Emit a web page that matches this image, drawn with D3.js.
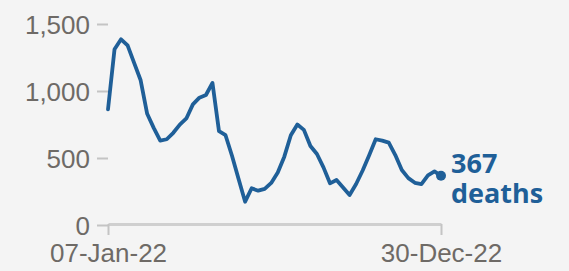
<!DOCTYPE html>
<html><head><meta charset="utf-8">
<script src="https://cdn.jsdelivr.net/npm/d3@7"></script>
<style>
html,body{margin:0;padding:0;background:#f4f4f4;}
svg{display:block;font-family:"Open Sans",sans-serif;}
</style></head>
<body><svg id="c" width="569" height="271"></svg>
<script>
const startDate = "2022-01-07";
const endDate = "2022-12-30";
const deaths = [863,1311,1386,1340,1210,1080,830,725,630,640,688,749,795,900,950,970,1060,700,670,515,344,174,274,256,270,314,392,510,670,750,710,590,530,430,311,336,280,224,306,407,520,640,630,615,522,410,350,315,305,370,400,367];
const yTicks = [0,500,1000,1500];
const xTickLabels = ["07-Jan-22","30-Dec-22"];
const endLabel = ["367","deaths"];

const parse = d3.timeParse("%Y-%m-%d");
const t0 = parse(startDate);
const dates = deaths.map((d,i)=>d3.timeDay.offset(t0, i*7));
const data = deaths.map((v,i)=>({date:dates[i], value:v}));

const svg = d3.select("#c");
const x = d3.scaleTime().domain([t0, parse(endDate)]).range([108,441]);
const y = d3.scaleLinear().domain([0,1500]).range([225,24]);

// y axis ticks
const ya = svg.append("g").attr("transform","translate(108,0)")
  .call(d3.axisLeft(y).tickValues(yTicks).tickSize(11).tickPadding(7).tickFormat(d3.format(",")));
ya.select(".domain").remove();
ya.selectAll("line").attr("stroke","#c4c4c4").attr("stroke-width",2);
ya.selectAll("text").attr("fill","#6e6a66").style("font-size","26px").attr("dy","0.35em");

// x axis
const xa = svg.append("g").attr("transform","translate(0,224)")
  .call(d3.axisBottom(x).tickValues([t0, parse(endDate)]).tickSize(11).tickSizeOuter(0).tickPadding(5).tickFormat((d,i)=>xTickLabels[i]));
xa.select(".domain").attr("stroke","#cfcfcf").attr("stroke-width",3);
xa.selectAll("line").attr("stroke","#c4c4c4").attr("stroke-width",2);
xa.selectAll("text").attr("fill","#6e6a66").style("font-size","26px").attr("dy","0.85em");

// line
const line = d3.line().x(d=>x(d.date)).y(d=>y(d.value));
svg.append("path").datum(data).attr("d",line)
  .attr("fill","none").attr("stroke","#1f5f98").attr("stroke-width",3.8)
  .attr("stroke-linejoin","round").attr("stroke-linecap","round");

const last = data[data.length-1];
svg.append("circle").attr("cx",x(last.date)).attr("cy",y(last.value)).attr("r",5).attr("fill","#1f5f98");

const lbl = svg.append("text").attr("x",x(last.date)+10).attr("y",173)
  .attr("fill","#1f5f98").style("font-size","27px").style("font-weight","bold");
lbl.append("tspan").attr("x",x(last.date)+10).text(endLabel[0]);
lbl.append("tspan").attr("x",x(last.date)+10).attr("dy",30).text(endLabel[1]);
</script></body></html>
